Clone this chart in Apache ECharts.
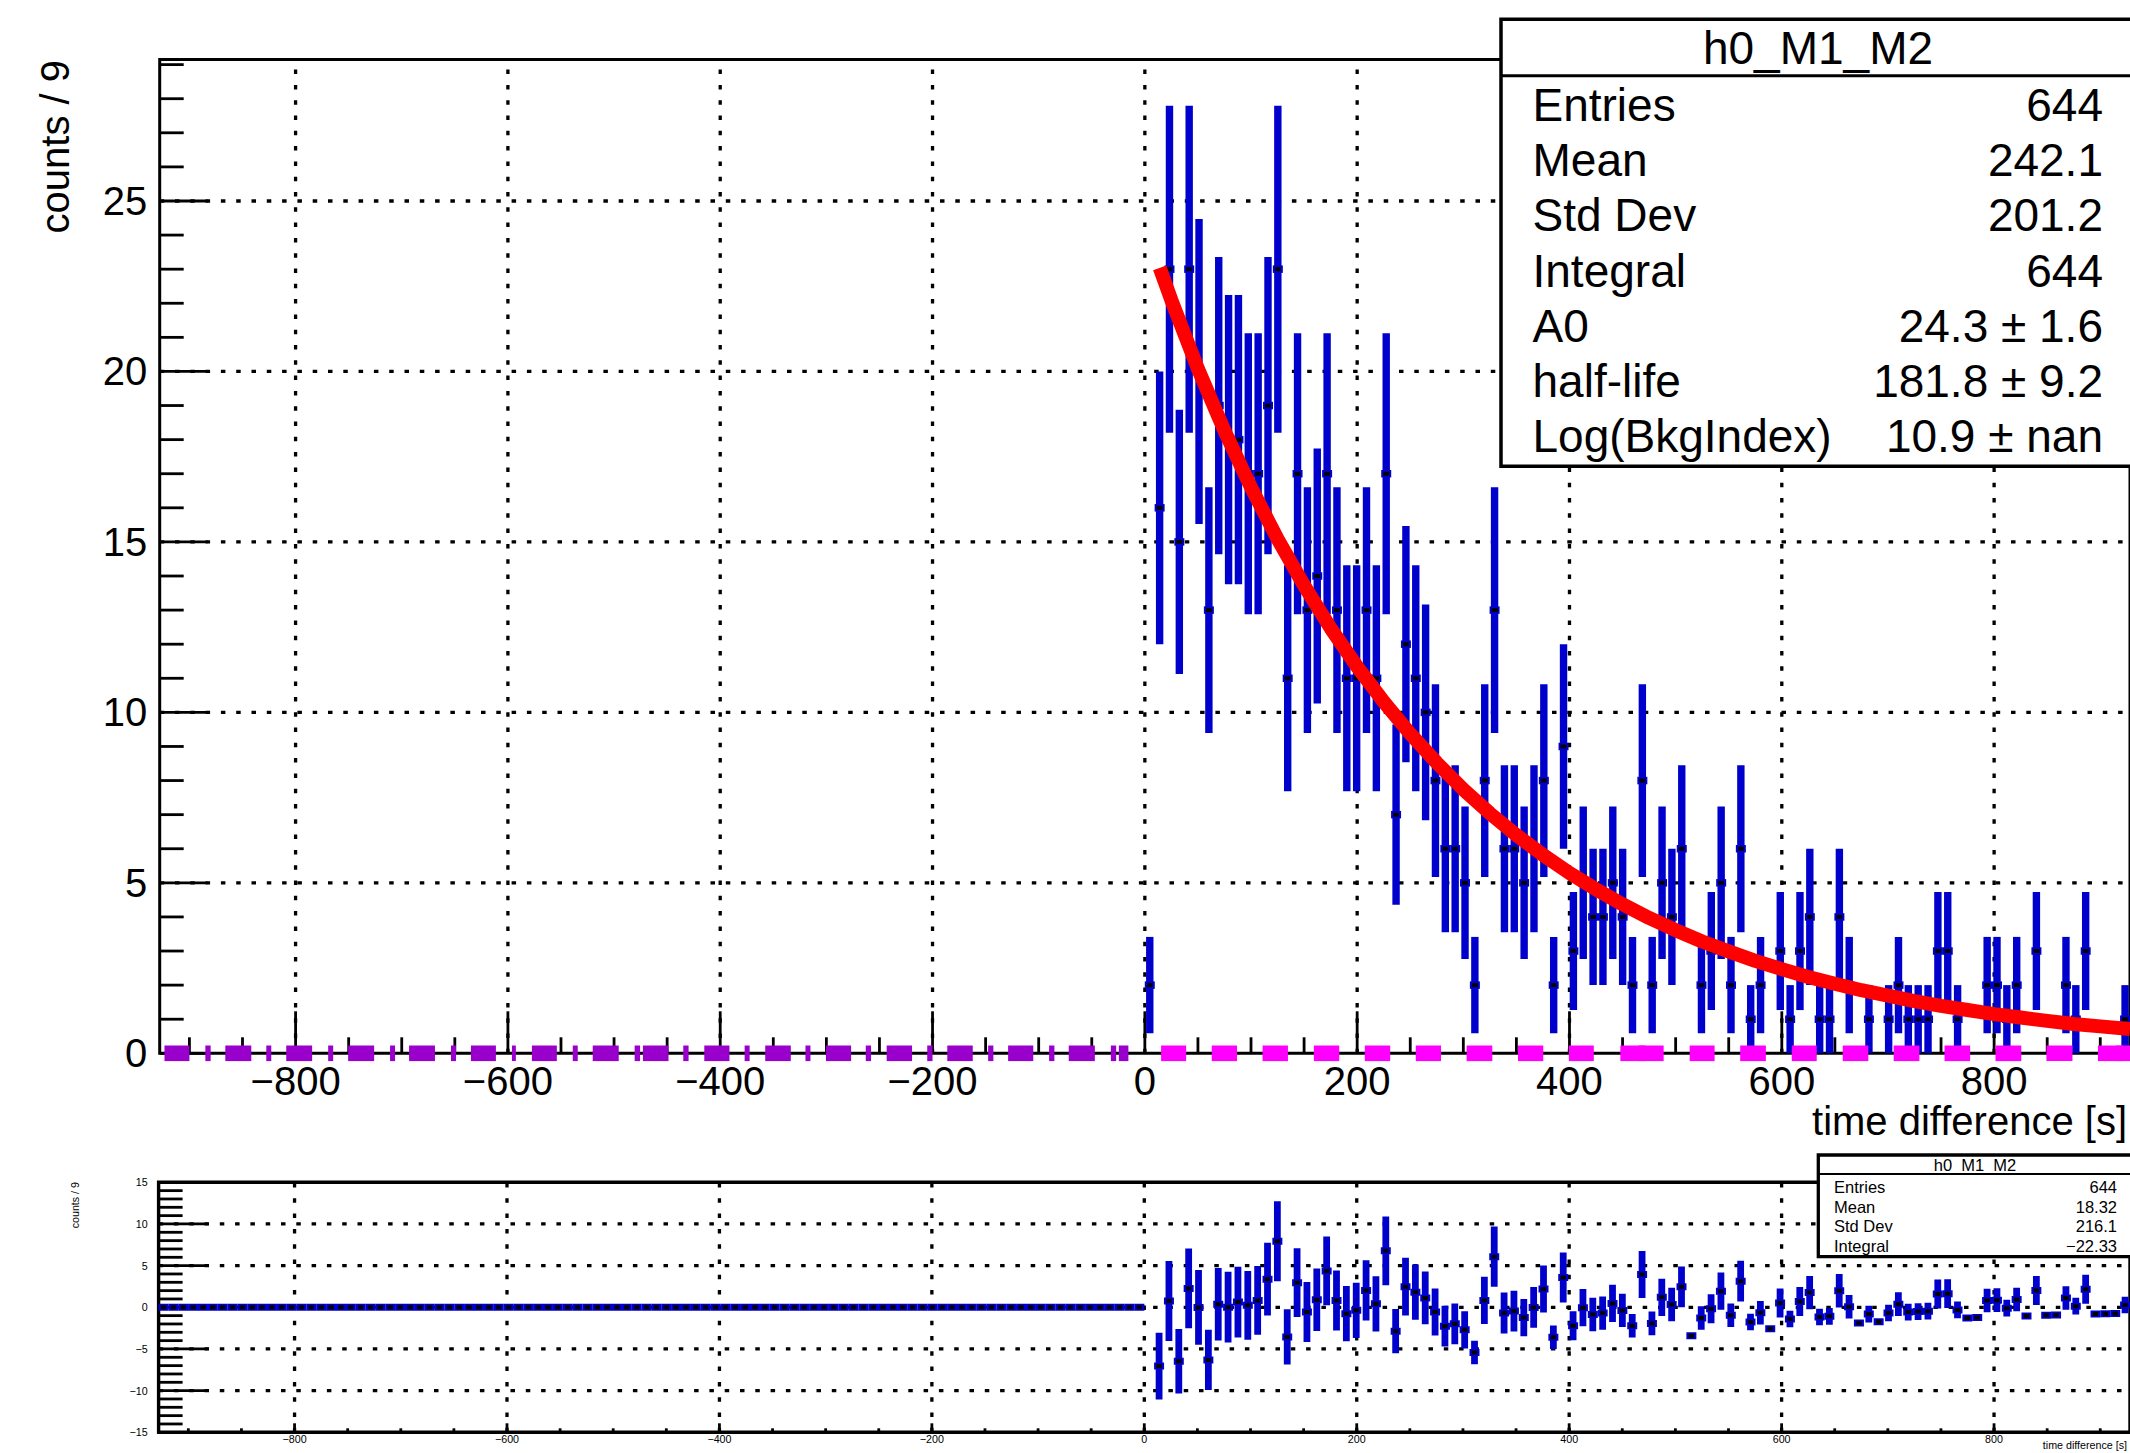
<!DOCTYPE html>
<html>
<head>
<meta charset="utf-8">
<script src="https://cdn.jsdelivr.net/npm/echarts@6/dist/echarts.min.js"></script>
<style>
html,body{margin:0;padding:0;background:#fff;}
#chart{width:2130px;height:1453px;}
</style>
</head>
<body>
<div id="chart"></div>
<script>
// ---------------- DATA ----------------
const xRange = [-928, 928];          // histogram range (time difference [s])
const nBins = 200;                   // bins over the full range
// counts per bin for the negative half (x < 0): all empty
const countsNeg = [0,0,0,0,0,0,0,0,0,0, 0,0,0,0,0,0,0,0,0,0, 0,0,0,0,0,0,0,0,0,0, 0,0,0,0,0,0,0,0,0,0, 0,0,0,0,0,0,0,0,0,0,
                   0,0,0,0,0,0,0,0,0,0, 0,0,0,0,0,0,0,0,0,0, 0,0,0,0,0,0,0,0,0,0, 0,0,0,0,0,0,0,0,0,0, 0,0,0,0,0,0,0,0,0,0];
// counts per bin for the positive half (x from 0 upward)
const countsPos = [2,16,23,15,23,20,13,19,18,18,
                   17,17,19,23,11,17,13,14,17,13,
                   11,11,13,11,17,7,12,11,10,8,
                   6,6,5,2,8,13,6,6,5,6,
                   8,2,9,3,5,4,4,5,4,2,
                   8,2,5,4,6,0,2,3,5,2,
                   6,1,2,0,3,1,3,4,1,1,
                   4,2,0,1,0,1,2,1,1,1,
                   3,3,1,0,0,2,2,1,2,0,
                   3,0,0,2,1,3,0,0,0,1];
// lower pad: residuals (data - fit) per bin
const residualsNeg = [0,0,0,0,0,0,0,0,0,0, 0,0,0,0,0,0,0,0,0,0, 0,0,0,0,0,0,0,0,0,0, 0,0,0,0,0,0,0,0,0,0, 0,0,0,0,0,0,0,0,0,0,
                      0,0,0,0,0,0,0,0,0,0, 0,0,0,0,0,0,0,0,0,0, 0,0,0,0,0,0,0,0,0,0, 0,0,0,0,0,0,0,0,0,0, 0,0,0,0,0,0,0,0,0,0];
const residualsPos = [-21.88,-7.05,0.75,-6.47,2.27,-0.01,-6.31,0.36,0.01,0.63,
                      0.24,0.82,3.38,7.92,-3.55,2.95,-0.56,0.91,4.37,0.81,
                      -0.77,-0.36,2.03,0.42,6.78,-2.86,2.48,1.81,1.13,-0.56,
                      -2.26,-1.98,-2.70,-5.43,0.83,6.08,-0.68,-0.45,-1.23,-0.01,
                      2.20,-3.60,3.59,-2.22,-0.04,-0.86,-0.69,0.47,-0.37,-2.22,
                      3.93,-1.93,1.20,0.34,2.46,-3.41,-1.29,-0.18,1.93,-0.96,
                      3.14,-1.76,-0.66,-2.57,0.52,-1.40,0.69,1.77,-1.16,-1.08,
                      1.99,0.06,-1.87,-0.81,-1.74,-0.68,0.38,-0.57,-0.51,-0.46,
                      1.59,1.64,-0.31,-1.27,-1.22,0.82,0.86,-0.10,0.94,-1.03,
                      2.01,-0.96,-0.92,1.11,0.14,2.17,-0.80,-0.77,-0.75,0.28];
// red fit curve, sampled points [x, counts]
const fitCurve = [[14,23.04],[25,22.09],[50,20.08],[75,18.26],[100,16.60],[125,15.09],[150,13.72],[175,12.47],
                  [200,11.34],[225,10.31],[250,9.37],[275,8.52],[300,7.74],[325,7.04],[350,6.40],[375,5.82],
                  [400,5.29],[425,4.81],[450,4.37],[475,3.97],[500,3.61],[525,3.28],[550,2.99],[575,2.71],
                  [600,2.47],[625,2.24],[650,2.04],[675,1.85],[700,1.69],[725,1.53],[750,1.39],[775,1.27],
                  [800,1.15],[825,1.05],[850,0.95],[875,0.86],[900,0.79],[928,0.71]];
// intervals drawn along the zero line [x0, x1]
const purpleIntervals = [[-923.5,-900.0],[-885.0,-880.0],[-866.2,-841.7],[-827.6,-822.9],[-808.8,-784.4],[-769.3,-764.6],
                         [-750.5,-726.0],[-711.0,-706.3],[-693.1,-668.7],[-653.6,-648.9],[-634.8,-611.3],[-596.2,-592.5],
                         [-577.4,-553.9],[-538.9,-534.2],[-520.1,-495.6],[-480.6,-475.5],[-472.8,-448.7],[-434.8,-429.8],
                         [-415.0,-391.3],[-377.0,-372.3],[-357.6,-333.5],[-319.7,-315.0],[-300.4,-276.7],[-262.9,-257.9],
                         [-243.2,-219.3],[-205.0,-200.0],[-186.1,-162.1],[-147.6,-142.7],[-128.8,-105.1],[-90.2,-85.2],
                         [-71.7,-47.1],[-32.0,-27.0],[-24.5,-15.5]];
const magentaIntervals = [[15.3,38.9],[63.0,86.8],[110.9,134.8],[159.2,183.1],[207.2,231.1],[255.2,279.0],[303.1,327.3],
                          [351.5,375.3],[399.4,422.9],[447.9,471.6],[465.0,488.7],[513.2,536.7],[560.8,585.0],[609.4,632.9],
                          [657.4,681.5],[705.4,729.6],[753.3,777.4],[801.3,825.6],[849.3,873.8],[897.8,921.5],[915.0,939.0]];
// tick labels
const xTickLabels = [-800,-600,-400,-200,0,200,400,600,800];
const yTickLabelsTop = [0,5,10,15,20,25];
const yTickLabelsBottom = [-15,-10,-5,0,5,10,15];
const topYMax = 29.15;
const bottomYRange = [-15, 15];
// stats boxes
const statsTopTitle = 'h0_M1_M2';
const statsTopLabels = ['Entries','Mean','Std Dev','Integral','A0','half-life','Log(BkgIndex)'];
const statsTopValues = ['644','242.1','201.2','644','24.3 \u00b1 1.6','181.8 \u00b1 9.2','10.9 \u00b1 nan'];
const statsBottomTitle = 'h0_M1_M2';
const statsBottomLabels = ['Entries','Mean','Std Dev','Integral'];
const statsBottomValues = ['644','18.32','216.1','\u221222.33'];
const xTitle = 'time difference [s]';
const yTitle = 'counts / 9';

// ---------------- BUILD ----------------
const FONT = '"Liberation Sans", Arial, Helvetica, sans-serif';
const BLUE = '#0000cc';
const binW = (xRange[1] - xRange[0]) / nBins;
const counts = countsNeg.concat(countsPos);
const residuals = residualsNeg.concat(residualsPos);
const centers = counts.map((_, i) => xRange[0] + binW * (i + 0.5));
const topData = [];
counts.forEach((n, i) => { if (n > 0) topData.push([centers[i], n, Math.sqrt(n)]); });
const lowData = residuals.map((r, i) => [centers[i], r, Math.sqrt(counts[i])]);

const xMinor = []; for (let v = -900; v <= 900; v += 50) if (v % 200 !== 0) xMinor.push(v);
const yMinorTop = []; for (let v = 1; v <= 29; v++) if (v % 5 !== 0) yMinorTop.push(v);
const yMinorLow = []; for (let v = -14; v <= 14; v++) if (v % 5 !== 0) yMinorLow.push(v);

const fmt = v => (v < 0 ? '\u2212' + Math.abs(v) : String(v));

function errRender(barW, boxW, boxH, dotW, dotH) {
  return function (params, api) {
    const x = api.value(0), v = api.value(1), e = api.value(2);
    const p = api.coord([x, v]);
    const ch = [];
    if (e > 0) {
      const t = api.coord([x, v + e]), b = api.coord([x, v - e]);
      ch.push({type: 'rect', shape: {x: p[0] - barW / 2, y: t[1], width: barW, height: b[1] - t[1]}, style: {fill: BLUE}});
    }
    ch.push({type: 'rect', shape: {x: p[0] - boxW / 2, y: p[1] - boxH / 2, width: boxW, height: boxH}, style: {fill: BLUE}});
    ch.push({type: 'rect', shape: {x: p[0] - dotW / 2, y: p[1] - dotH / 2, width: dotW, height: dotH}, style: {fill: '#000'}});
    return {type: 'group', children: ch};
  };
}
const DOT = {stroke: '#000', lineWidth: 3.3, lineDash: [4.5, 10.8]};
function vGrid(y0, y1) {
  return function (params, api) {
    const x = api.value(0);
    const a = api.coord([x, y0]), b = api.coord([x, y1]);
    return {type: 'line', shape: {x1: a[0], y1: a[1], x2: b[0], y2: b[1]}, style: DOT};
  };
}
function hGrid() {
  return function (params, api) {
    const y = api.value(1);
    const a = api.coord([xRange[0], y]), b = api.coord([xRange[1], y]);
    return {type: 'line', shape: {x1: a[0], y1: a[1], x2: b[0], y2: b[1]}, style: DOT};
  };
}
function xTicks(yBase, majLen, minLen) {
  return function (params, api) {
    const x = api.value(0), major = api.value(2);
    const p = api.coord([x, yBase]);
    const len = major ? majLen : minLen;
    return {type: 'line', shape: {x1: p[0], y1: p[1], x2: p[0], y2: p[1] - len}, style: {stroke: '#000', lineWidth: 2.8}};
  };
}
function yTicks(majLen, minLen) {
  return function (params, api) {
    const y = api.value(1), major = api.value(2);
    const p = api.coord([xRange[0], y]);
    const len = major ? majLen : minLen;
    return {type: 'line', shape: {x1: p[0], y1: p[1], x2: p[0] + len, y2: p[1]}, style: {stroke: '#000', lineWidth: 2.8}};
  };
}
function intervalRender(color) {
  return function (params, api) {
    const a = api.coord([api.value(0), 0]), b = api.coord([api.value(2), 0]);
    return {type: 'rect', shape: {x: a[0], y: a[1] - 7.8, width: b[0] - a[0], height: 15.6}, style: {fill: color}};
  };
}

const xTickDataTop = xTickLabels.map(v => [v, 0, 1]).concat(xMinor.map(v => [v, 0, 0]));
const yTickDataTop = yTickLabelsTop.map(v => [xRange[0], v, 1]).concat(yMinorTop.map(v => [xRange[0], v, 0]));
const xTickDataLow = xTickLabels.map(v => [v, bottomYRange[0], 1]).concat(xMinor.map(v => [v, bottomYRange[0], 0]));
const yTickDataLow = yTickLabelsBottom.map(v => [xRange[0], v, 1]).concat(yMinorLow.map(v => [xRange[0], v, 0]));

const common = {type: 'custom', silent: true, animation: false};

const series = [
  // top pad
  Object.assign({}, common, {name: 'vgridTop', xAxisIndex: 0, yAxisIndex: 0, z: 1, renderItem: vGrid(0, topYMax), data: xTickLabels.map(v => [v, 0])}),
  Object.assign({}, common, {name: 'hgridTop', xAxisIndex: 0, yAxisIndex: 0, z: 1, renderItem: hGrid(), data: yTickLabelsTop.filter(v => v > 0).map(v => [xRange[0], v])}),
  Object.assign({}, common, {name: 'xticksTop', xAxisIndex: 0, yAxisIndex: 0, z: 2, renderItem: xTicks(0, 42, 16), data: xTickDataTop}),
  Object.assign({}, common, {name: 'yticksTop', xAxisIndex: 0, yAxisIndex: 0, z: 2, renderItem: yTicks(48, 24), data: yTickDataTop}),
  Object.assign({}, common, {name: 'h0_M1_M2', xAxisIndex: 0, yAxisIndex: 0, z: 3, clip: true, renderItem: errRender(7.4, 10, 7.5, 6, 4), encode: {x: 0, y: 1}, data: topData}),
  {type: 'line', name: 'fit', xAxisIndex: 0, yAxisIndex: 0, z: 4, silent: true, animation: false, showSymbol: false, symbol: 'none',
   lineStyle: {color: '#ff0000', width: 14, cap: 'butt', join: 'round'}, data: fitCurve},
  Object.assign({}, common, {name: 'purple', xAxisIndex: 0, yAxisIndex: 0, z: 5, renderItem: intervalRender('#9900cc'), encode: {x: [0, 2], y: 1}, data: purpleIntervals.map(d => [d[0], 0, d[1]])}),
  Object.assign({}, common, {name: 'magenta', xAxisIndex: 0, yAxisIndex: 0, z: 5, renderItem: intervalRender('#ff00ff'), encode: {x: [0, 2], y: 1}, data: magentaIntervals.map(d => [d[0], 0, d[1]])}),
  // bottom pad
  Object.assign({}, common, {name: 'vgridLow', xAxisIndex: 1, yAxisIndex: 1, z: 1, renderItem: vGrid(bottomYRange[0], bottomYRange[1]), data: xTickLabels.map(v => [v, 0])}),
  Object.assign({}, common, {name: 'hgridLow', xAxisIndex: 1, yAxisIndex: 1, z: 1, renderItem: hGrid(), data: yTickLabelsBottom.filter(v => Math.abs(v) < 15).map(v => [xRange[0], v])}),
  Object.assign({}, common, {name: 'xticksLow', xAxisIndex: 1, yAxisIndex: 1, z: 2, renderItem: xTicks(bottomYRange[0], 9, 4), data: xTickDataLow}),
  Object.assign({}, common, {name: 'yticksLow', xAxisIndex: 1, yAxisIndex: 1, z: 2, renderItem: yTicks(50, 24), data: yTickDataLow}),
  Object.assign({}, common, {name: 'residuals', xAxisIndex: 1, yAxisIndex: 1, z: 3, clip: true, renderItem: errRender(6.8, 10, 7, 5.5, 4), encode: {x: 0, y: 1}, data: lowData})
];

function txt(x, y, text, size, align, vAlign, extra) {
  return Object.assign({type: 'text', x: x, y: y, z: 102, silent: true,
    style: {text: text, font: size + 'px ' + FONT, fill: '#000', align: align, verticalAlign: vAlign, textAlign: align, textVerticalAlign: vAlign}}, extra || {});
}
const graphics = [];
// axis titles
graphics.push(txt(54.5, 60, yTitle, 40, 'right', 'middle', {rotation: Math.PI / 2}));
graphics.push(txt(2127, 1121, xTitle, 40, 'right', 'middle'));
graphics.push(txt(74.6, 1182, yTitle, 10.7, 'right', 'middle', {rotation: Math.PI / 2}));
graphics.push(txt(2127, 1445, xTitle, 10.7, 'right', 'middle'));
// top stats box
graphics.push({type: 'rect', z: 100, silent: true, shape: {x: 1501, y: 19.3, width: 634, height: 447}, style: {fill: '#fff', stroke: '#000', lineWidth: 3.5}});
graphics.push({type: 'line', z: 101, silent: true, shape: {x1: 1501, y1: 75.7, x2: 2140, y2: 75.7}, style: {stroke: '#000', lineWidth: 3}});
graphics.push(txt(1818, 47.5, statsTopTitle, 46, 'center', 'middle'));
statsTopLabels.forEach((l, k) => {
  const y = 105 + 55.2 * k;
  graphics.push(txt(1532.5, y, l, 46, 'left', 'middle'));
  graphics.push(txt(2103, y, statsTopValues[k], 46, 'right', 'middle'));
});
// bottom stats box
graphics.push({type: 'rect', z: 100, silent: true, shape: {x: 1818.3, y: 1155, width: 314, height: 101.7}, style: {fill: '#fff', stroke: '#000', lineWidth: 3.3}});
graphics.push({type: 'line', z: 101, silent: true, shape: {x1: 1818.3, y1: 1174, x2: 2140, y2: 1174}, style: {stroke: '#000', lineWidth: 2}});
graphics.push(txt(1975, 1165, statsBottomTitle, 16.5, 'center', 'middle'));
statsBottomLabels.forEach((l, k) => {
  const y = 1187 + 19.65 * k;
  graphics.push(txt(1834, y, l, 16.5, 'left', 'middle'));
  graphics.push(txt(2117, y, statsBottomValues[k], 16.5, 'right', 'middle'));
});

const hideAxisParts = {axisLine: {show: false}, axisTick: {show: false}, splitLine: {show: false}, minorTick: {show: false}};
const option = {
  animation: false,
  backgroundColor: '#ffffff',
  grid: [
    {left: 159.7, top: 59.5, width: 1973.5, height: 993.8, show: true, borderColor: '#000', borderWidth: 3, backgroundColor: 'transparent', containLabel: false},
    {left: 158.6, top: 1182.3, width: 1973.5, height: 250, show: true, borderColor: '#000', borderWidth: 3.4, backgroundColor: 'transparent', containLabel: false}
  ],
  xAxis: [
    Object.assign({gridIndex: 0, type: 'value', min: xRange[0], max: xRange[1],
      axisLabel: {customValues: xTickLabels, formatter: fmt, fontSize: 40, fontFamily: FONT, color: '#000', margin: 8}}, hideAxisParts),
    Object.assign({gridIndex: 1, type: 'value', min: xRange[0], max: xRange[1],
      axisLabel: {customValues: xTickLabels, formatter: fmt, fontSize: 10.7, fontFamily: FONT, color: '#000', margin: 1}}, hideAxisParts)
  ],
  yAxis: [
    Object.assign({gridIndex: 0, type: 'value', min: 0, max: topYMax,
      axisLabel: {customValues: yTickLabelsTop, formatter: fmt, fontSize: 40, fontFamily: FONT, color: '#000', margin: 12.5}}, hideAxisParts),
    Object.assign({gridIndex: 1, type: 'value', min: bottomYRange[0], max: bottomYRange[1],
      axisLabel: {customValues: yTickLabelsBottom, formatter: fmt, fontSize: 10.7, fontFamily: FONT, color: '#000', margin: 11}}, hideAxisParts)
  ],
  series: series,
  graphic: {elements: graphics}
};
const chart = echarts.init(document.getElementById('chart'), null, {renderer: 'svg', width: 2130, height: 1453});
chart.setOption(option);
</script>
</body>
</html>
